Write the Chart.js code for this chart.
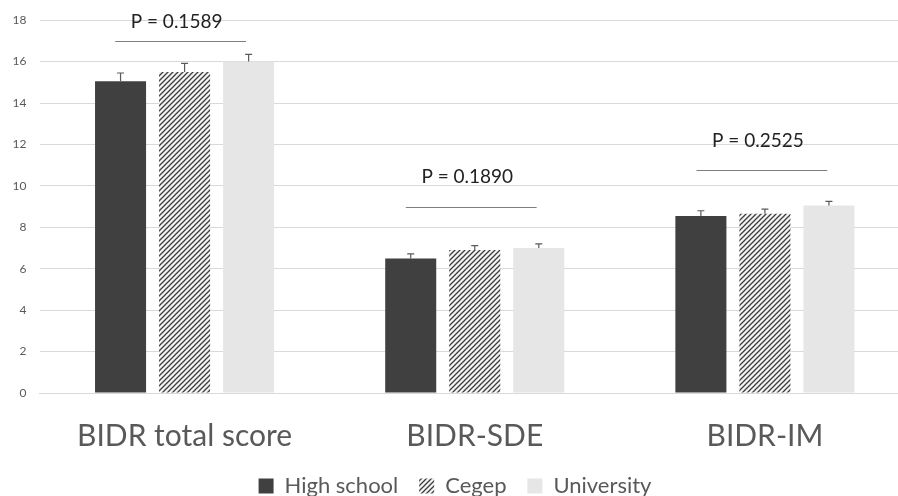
<!DOCTYPE html>
<html>
<head>
<meta charset="utf-8">
<script src="https://cdn.jsdelivr.net/npm/chart.js@4.4.0/dist/chart.umd.min.js"></script>
<style>
  html, body { margin: 0; padding: 0; background: #fff; overflow: hidden; }
  #wrap { position: relative; width: 920px; height: 496px; }
</style>
</head>
<body>
<div id="wrap"><canvas id="bidrChart" width="920" height="496"></canvas></div>
<script>
// Scores per measure and school level
const categories = ['BIDR total score', 'BIDR-SDE', 'BIDR-IM'];
const highSchool = [15.05, 6.5, 8.55];
const cegep = [15.5, 6.9, 8.65];
const university = [16.0, 7.0, 9.05];

// Upper error bar ends
const highSchoolErr = [15.45, 6.72, 8.8];
const cegepErr = [15.92, 7.12, 8.88];
const universityErr = [16.35, 7.2, 9.25];

// P-value brackets: label, line level, text level
const pLabels = ['P = 0.1589', 'P = 0.1890', 'P = 0.2525'];
const pLineLevels = [17.0, 9.0, 10.78];
const pTextLevels = [17.9, 10.45, 12.15];

const yTicks = [0, 2, 4, 6, 8, 10, 12, 14, 16, 18];

const FONT = 'Lato, "Open Sans", sans-serif';

// diagonal hatch for the Cegep bars
function makeHatch() {
    const c = document.createElement('canvas');
    c.width = 5;
    c.height = 5;
    const g = c.getContext('2d');
    g.fillStyle = '#f4f4f4';
    g.fillRect(0, 0, 5, 5);
    g.strokeStyle = '#3c3c3c';
    g.lineWidth = 1.3;
    g.beginPath();
    g.moveTo(-1, 6); g.lineTo(6, -1);
    g.moveTo(-1, 1); g.lineTo(1, -1);
    g.moveTo(4, 6); g.lineTo(6, 4);
    g.stroke();
    return g.createPattern(c, 'repeat');
}
const hatch = makeHatch();

const errorBars = {
    id: 'errorBars',
    afterDatasetsDraw(chart) {
        const ctx = chart.ctx;
        const y = chart.scales.y;
        ctx.save();
        ctx.strokeStyle = '#5a5a5a';
        ctx.lineWidth = 1.2;
        chart.data.datasets.forEach((ds, i) => {
            const meta = chart.getDatasetMeta(i);
            meta.data.forEach((bar, j) => {
                const top = y.getPixelForValue(ds.errTop[j]);
                ctx.beginPath();
                ctx.moveTo(bar.x, bar.y);
                ctx.lineTo(bar.x, top);
                ctx.moveTo(bar.x - 3.5, top);
                ctx.lineTo(bar.x + 3.5, top);
                ctx.stroke();
            });
        });
        ctx.restore();
    }
};

const pBrackets = {
    id: 'pBrackets',
    afterDraw(chart) {
        const ctx = chart.ctx;
        const x = chart.scales.x;
        const y = chart.scales.y;
        const half = (x.getPixelForValue(1) - x.getPixelForValue(0)) * 0.222;
        ctx.save();
        pLabels.forEach((label, i) => {
            const cx = x.getPixelForValue(i) - 5 + i * 0.5;
            const ly = Math.round(y.getPixelForValue(pLineLevels[i])) + 0.5;
            ctx.strokeStyle = '#7f7f7f';
            ctx.lineWidth = 1;
            ctx.beginPath();
            ctx.moveTo(cx - half, ly);
            ctx.lineTo(cx + half + 2, ly);
            ctx.stroke();
            ctx.fillStyle = '#222';
            ctx.font = '19px ' + FONT;
            ctx.textAlign = 'center';
            ctx.textBaseline = 'middle';
            ctx.fillText(label, cx - 3, y.getPixelForValue(pTextLevels[i]));
        });
        ctx.restore();
    }
};

new Chart(document.getElementById('bidrChart').getContext('2d'), {
    type: 'bar',
    data: {
        labels: categories,
        datasets: [
            { label: 'High school', data: highSchool, errTop: highSchoolErr, backgroundColor: '#404040' },
            { label: 'Cegep', data: cegep, errTop: cegepErr, backgroundColor: hatch },
            { label: 'University', data: university, errTop: universityErr, backgroundColor: '#e6e6e6' }
        ]
    },
    options: {
        responsive: false,
        animation: false,
        devicePixelRatio: 1,
        categoryPercentage: 0.662,
        barPercentage: 0.797,
        layout: { padding: { top: 12, right: 10, left: 0, bottom: -11 } },
        plugins: {
            tooltip: { enabled: false },
            legend: {
                position: 'bottom',
                labels: {
                    color: '#595959',
                    font: { family: FONT, size: 22 },
                    boxWidth: 15,
                    boxHeight: 15,
                    padding: 4,
                    // widen the gap between entries without extra vertical padding
                    generateLabels(chart) {
                        const items = Chart.defaults.plugins.legend.labels.generateLabels(chart);
                        items.forEach((it, i) => {
                            if (i < items.length - 1) it.text += '   ';
                        });
                        return items;
                    }
                }
            }
        },
        scales: {
            x: {
                grid: { display: false },
                border: { color: '#d9d9d9', width: 1 },
                ticks: {
                    color: '#595959',
                    font: { family: FONT, size: 30 },
                    padding: 17
                }
            },
            y: {
                min: 0,
                max: 18,
                afterBuildTicks(axis) {
                    axis.ticks = yTicks.map(v => ({ value: v }));
                },
                afterFit(axis) { axis.width = 39.5; },
                grid: { color: '#d9d9d9', drawTicks: false },
                border: { display: false },
                ticks: {
                    color: '#595959',
                    font: { family: FONT, size: 12 },
                    padding: 13
                }
            }
        }
    },
    plugins: [errorBars, pBrackets]
});
</script>
</body>
</html>
